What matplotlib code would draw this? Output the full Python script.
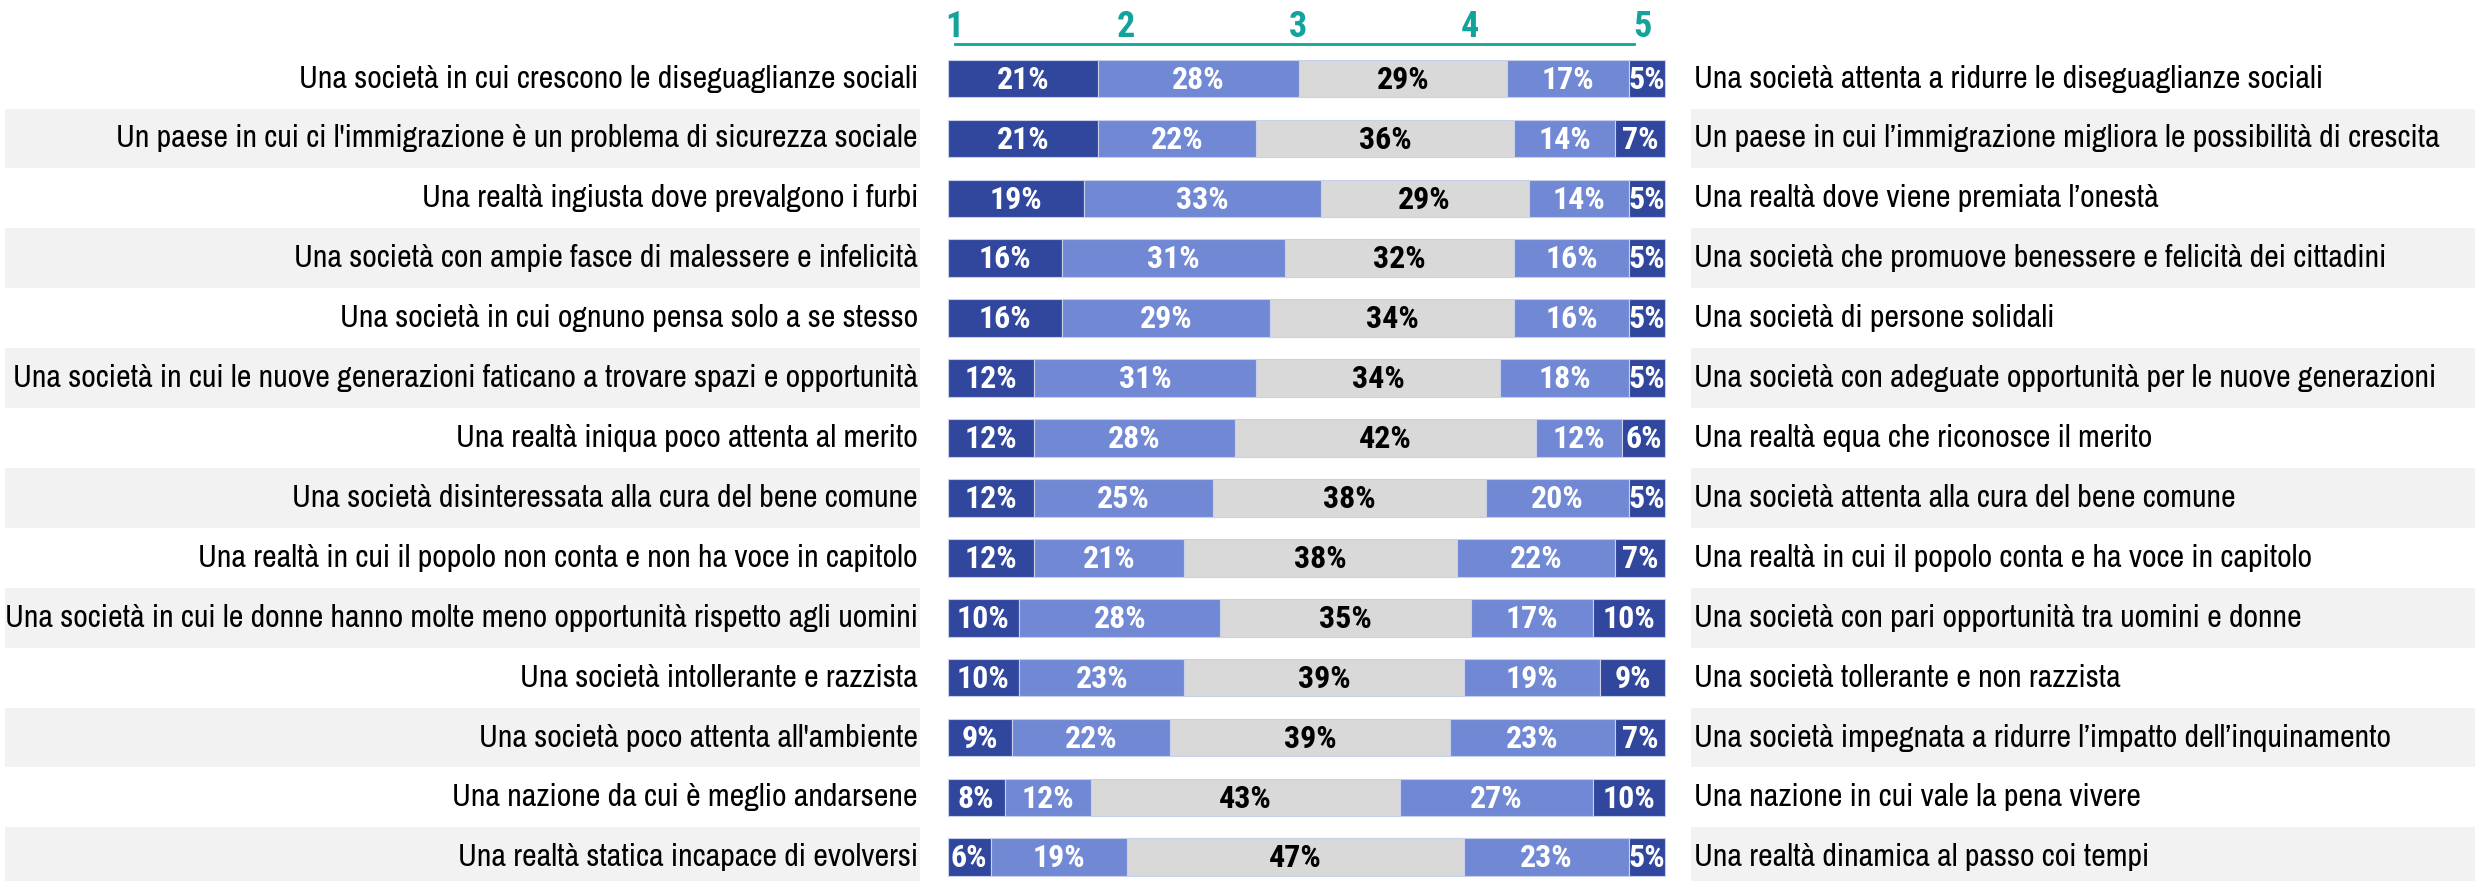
import numpy as np
import matplotlib.pyplot as plt

# condensed faces close to Arial Narrow, with plain fallbacks
LABEL_FONT = ['Archivo Narrow', 'Liberation Sans', 'DejaVu Sans']
BOLD_FONT = ['Roboto Condensed', 'IBM Plex Sans Condensed', 'Liberation Sans', 'DejaVu Sans']
plt.rcParams['font.family'] = LABEL_FONT

left_labels = [
    "Una società in cui crescono le diseguaglianze sociali",
    "Un paese in cui ci l'immigrazione è un problema di sicurezza sociale",
    "Una realtà ingiusta dove prevalgono i furbi",
    "Una società con ampie fasce di malessere e infelicità",
    "Una società in cui ognuno pensa solo a se stesso",
    "Una società in cui le nuove generazioni faticano a trovare spazi e opportunità",
    "Una realtà iniqua poco attenta al merito",
    "Una società disinteressata alla cura del bene comune",
    "Una realtà in cui il popolo non conta e non ha voce in capitolo",
    "Una società in cui le donne hanno molte meno opportunità rispetto agli uomini",
    "Una società intollerante e razzista",
    "Una società poco attenta all'ambiente",
    "Una nazione da cui è meglio andarsene",
    "Una realtà statica incapace di evolversi",
]
right_labels = [
    "Una società attenta a ridurre le diseguaglianze sociali",
    "Un paese in cui l\u2019immigrazione migliora le possibilità di crescita",
    "Una realtà dove viene premiata l\u2019onestà",
    "Una società che promuove benessere e felicità dei cittadini",
    "Una società di persone solidali",
    "Una società con adeguate opportunità per le nuove generazioni",
    "Una realtà equa che riconosce il merito",
    "Una società attenta alla cura del bene comune",
    "Una realtà in cui il popolo conta e ha voce in capitolo",
    "Una società con pari opportunità tra uomini e donne",
    "Una società tollerante e non razzista",
    "Una società impegnata a ridurre l\u2019impatto dell\u2019inquinamento",
    "Una nazione in cui vale la pena vivere",
    "Una realtà dinamica al passo coi tempi",
]
scale_labels = ['1', '2', '3', '4', '5']

v1 = [21, 21, 19, 16, 16, 12, 12, 12, 12, 10, 10, 9, 8, 6]
v2 = [28, 22, 33, 31, 29, 31, 28, 25, 21, 28, 23, 22, 12, 19]
v3 = [29, 36, 29, 32, 34, 34, 42, 38, 38, 35, 39, 39, 43, 47]
v4 = [17, 14, 14, 16, 16, 18, 12, 20, 22, 17, 19, 23, 27, 23]
v5 = [5, 7, 5, 5, 5, 5, 6, 5, 7, 10, 9, 7, 10, 5]

dark = '#31479E'
light = '#7188D5'
grey = '#D9D9D9'
teal = '#13A39B'
band = '#F2F2F2'

W, H = 2475, 881
fig = plt.figure(figsize=(W / 100, H / 100), dpi=100)
ax = fig.add_axes([0, 0, 1, 1])

# pixel layout -> data units
x0, pxu = 947.5, 7.175          # bar start and px per percent
y0, pitch = 78.6, 59.9          # first row centre and row pitch
ax.set_xlim(-x0 / pxu, (W - x0) / pxu)
ax.set_ylim((H - y0) / pitch, -y0 / pitch)
ax.axis('off')

def px(x):
    return (x - x0) / pxu

def py(y):
    return (y - y0) / pitch

n = len(left_labels)
rows = np.arange(n)
series = [v1, v2, v3, v4, v5]
colors = [dark, light, grey, light, dark]
txtcol = ['white', 'white', 'black', 'white', 'white']

# alternating background bands
for i in rows:
    if i % 2 == 1:
        ax.fill_between([px(5), px(920)], i - 0.5, i + 0.5, color=band, lw=0, zorder=0)
        ax.fill_between([px(1691), px(W)], i - 0.5, i + 0.5, color=band, lw=0, zorder=0)

left = np.zeros(n)
for vals, c, tc in zip(series, colors, txtcol):
    vals = np.array(vals, dtype=float)
    ax.barh(rows, vals, left=left, height=0.63, color=c,
            edgecolor='#C9D0EA', linewidth=0.8, zorder=2)
    for i in rows:
        ax.text(left[i] + vals[i] / 2, i + 0.02, f"{int(vals[i])}%", ha='center', va='center',
                color=tc, fontsize=23, fontweight='bold', family=BOLD_FONT, zorder=3)
    left += vals

for i in rows:
    ax.text(px(918), i, left_labels[i], ha='right', va='center', fontsize=23, color='black')
    ax.text(px(1694), i, right_labels[i], ha='left', va='center', fontsize=23, color='black')

# scale header
hx = np.linspace(0.9, 96.8, len(scale_labels))
for x, s in zip(hx, scale_labels):
    ax.text(x, py(27), s, ha='center', va='center',
            color=teal, fontsize=26, fontweight='bold', family=BOLD_FONT)
ax.plot([px(955), px(1634)], [py(44)] * 2, color=teal, lw=2)

fig.savefig('out.png', dpi=100)
